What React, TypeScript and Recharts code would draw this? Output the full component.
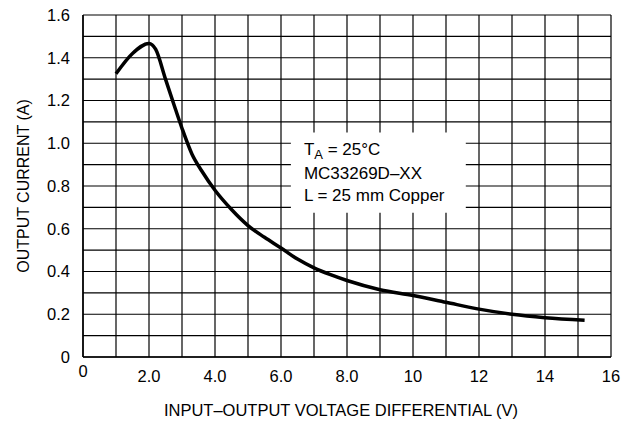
import React from 'react';
import { LineChart, Line, XAxis, YAxis, CartesianGrid, ReferenceArea } from 'recharts';

// output current vs input-output differential
const voltage = [1.0, 1.5, 2.0, 2.2, 2.5, 2.8, 3.0, 3.3, 3.6, 4.0, 4.5, 5.0, 5.5, 6.0, 6.5, 7.0, 7.5, 8.0, 9.0, 10, 11, 12, 13, 14, 15.2];
const current = [1.325, 1.42, 1.467, 1.44, 1.3, 1.16, 1.07, 0.95, 0.87, 0.78, 0.69, 0.615, 0.56, 0.51, 0.458, 0.417, 0.385, 0.358, 0.315, 0.288, 0.256, 0.224, 0.2, 0.184, 0.172];

const xGrid = [0, 1, 2, 3, 4, 5, 6, 7, 8, 9, 10, 11, 12, 13, 14, 15, 16];
const yGrid = [0, 0.1, 0.2, 0.3, 0.4, 0.5, 0.6, 0.7, 0.8, 0.9, 1.0, 1.1, 1.2, 1.3, 1.4, 1.5, 1.6];
const xLabelTicks = [0, 2, 4, 6, 8, 10, 12, 14, 16];
const xLabelText = ['0', '2.0', '4.0', '6.0', '8.0', '10', '12', '14', '16'];
const yLabelTicks = [0, 0.2, 0.4, 0.6, 0.8, 1.0, 1.2, 1.4, 1.6];
const yLabelText = ['0', '0.2', '0.4', '0.6', '0.8', '1.0', '1.2', '1.4', '1.6'];

const FONT = 'Arial, "Liberation Sans", Helvetica, sans-serif';

const data = voltage.map((v, i) => ({ v, a: current[i] }));

const XTick = (props: any) => {
  const { x, y, payload } = props;
  const i = xLabelTicks.indexOf(payload.value);
  if (i < 0) return <g />;
  return (
    <text x={x} y={y} dy={payload.value === 0 ? '0.4em' : '0.72em'} textAnchor="middle" fontSize={16.5} fontFamily={FONT} fill="#000">
      {xLabelText[i]}
    </text>
  );
};

const YTick = (props: any) => {
  const { x, y, payload } = props;
  const i = yLabelTicks.findIndex((t) => Math.abs(t - payload.value) < 1e-6);
  if (i < 0) return <g />;
  return (
    <text x={x} y={y} dy="0.36em" textAnchor="end" fontSize={16.5} fontFamily={FONT} fill="#000">
      {yLabelText[i]}
    </text>
  );
};

const NoteText = (props: any) => {
  const vb = props.viewBox || { x: 0, y: 0 };
  const left = vb.x + 13;
  return (
    <g fontFamily={FONT} fontSize={17} fill="#000">
      <text x={left} y={vb.y + 22.5}>
        T<tspan fontSize={13} dy={4}>A</tspan>
        <tspan dy={-4}> = 25°C</tspan>
      </text>
      <text x={left} y={vb.y + 46}>MC33269D–XX</text>
      <text x={left} y={vb.y + 68}>L = 25 mm Copper</text>
    </g>
  );
};

export default function App() {
  return (
    <div style={{ position: 'absolute', left: 0, top: 0, background: '#fff' }}>
      <LineChart width={632} height={425} data={data} margin={{ top: 15, right: 21, bottom: 8, left: 0 }}>
        <CartesianGrid stroke="#000" strokeWidth={1.2} horizontal vertical />
        <XAxis
          dataKey="v"
          type="number"
          domain={[0, 16]}
          ticks={xGrid}
          interval={0}
          height={60}
          axisLine={{ stroke: '#000', strokeWidth: 1.5 }}
          tickLine={false}
          tickSize={0}
          tickMargin={13}
          tick={<XTick />}
          label={{ value: 'INPUT–OUTPUT VOLTAGE DIFFERENTIAL (V)', position: 'insideBottom', offset: 1, dx: -6, fill: '#000', fontSize: 16.5, fontFamily: FONT }}
        />
        <YAxis
          type="number"
          domain={[0, 1.6]}
          ticks={yGrid}
          interval={0}
          width={83}
          axisLine={{ stroke: '#000', strokeWidth: 1.5 }}
          tickLine={false}
          tickSize={0}
          tickMargin={13}
          tick={<YTick />}
          label={{ value: 'OUTPUT CURRENT (A)', angle: -90, position: 'insideLeft', offset: 23, fill: '#000', fontSize: 16, fontFamily: FONT, style: { textAnchor: 'middle' } }}
        />
        <ReferenceArea x1={6.3} x2={11.6} y1={0.675} y2={1.05} fill="#fff" fillOpacity={1} stroke="none" label={<NoteText />} />
        <Line dataKey="a" type="monotone" stroke="#000" strokeWidth={3.5} dot={false} isAnimationActive={false} />
      </LineChart>
    </div>
  );
}
